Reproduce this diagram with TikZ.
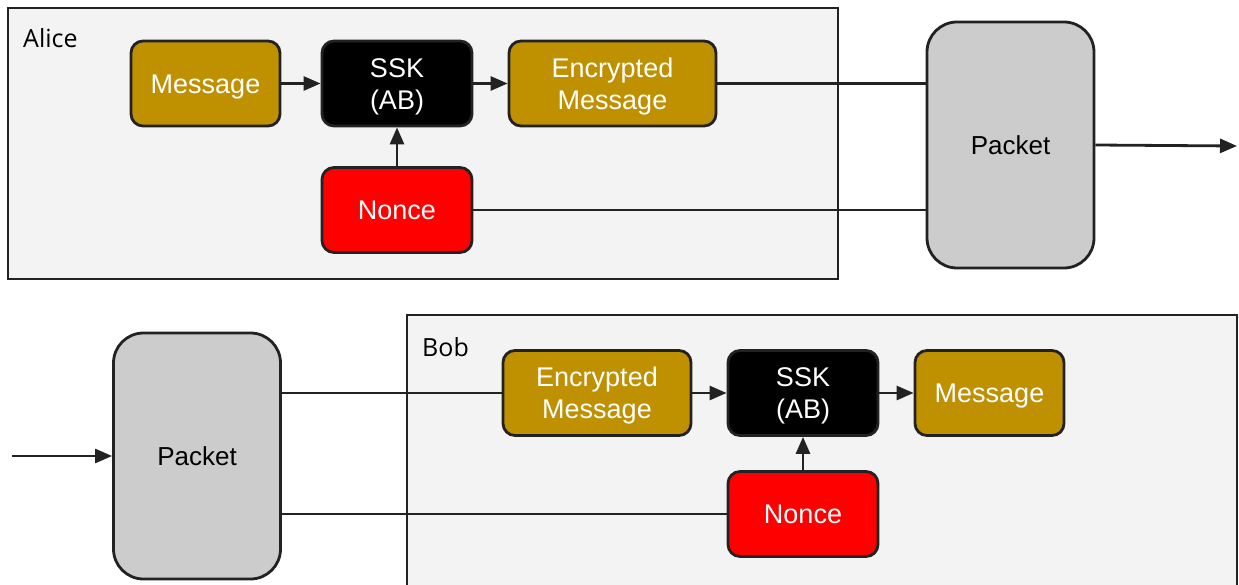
\documentclass[tikz,border=0pt]{standalone}
\usepackage{fontspec}
\setmainfont{Liberation Sans}
\newfontfamily\labelfont{Open Sans}
\usetikzlibrary{arrows.meta}
\definecolor{gold}{HTML}{BF9000}
\definecolor{pane}{HTML}{F3F3F3}
\definecolor{pktgray}{HTML}{CCCCCC}
\definecolor{edge}{HTML}{222222}
\tikzset{
  box/.style={draw=edge, line width=2.8pt, rounded corners=12pt, inner sep=0pt,
    minimum height=85pt, align=center, text=white,
    text height=19.5pt, text depth=0pt,
    font=\fontsize{27}{32}\selectfont},
  twoline/.style={text height=51.5pt, text depth=0pt},
  goldbox/.style={box, fill=gold},
  keybox/.style={box, fill=black, minimum width=150pt},
  noncebox/.style={box, fill=red, minimum width=150pt},
  packetbox/.style={draw=edge, line width=2.8pt, rounded corners=30pt, fill=pktgray,
    minimum width=167pt, minimum height=246pt, text=black, inner sep=0pt,
    text height=19pt, text depth=0pt,
    font=\fontsize{26}{30}\selectfont},
  container/.style={draw=edge, line width=2.5pt, fill=pane},
  partylabel/.style={anchor=base west, inner sep=0pt, font=\labelfont\fontsize{25}{28}\selectfont},
  wire/.style={draw=edge, line width=2.8pt},
  flow/.style={wire, -{Triangle[length=17pt,width=14pt]}},
}
\begin{document}
\begin{tikzpicture}[x=1pt, y=-1pt]
\useasboundingbox (0,0) rectangle (1239,585);

% Sender side
\draw[container] (8,8) rectangle (838,279);
\node[partylabel] (alice) at (23,48) {Alice};
\node[goldbox, minimum width=149pt] (msgA) at (205.5,83.5) {Message};
\node[keybox, twoline] (sskA) at (397,83.5) {SSK\\(AB)};
\node[goldbox, twoline, minimum width=207pt] (encA) at (612.5,83.5) {Encrypted\\Message};
\node[noncebox] (nonceA) at (397,210) {Nonce};
\node[packetbox] (pktA) at (1010.5,145) {Packet};
\coordinate (outA) at (1237,146);

\draw[flow] (msgA) -- (sskA);
\draw[flow] (sskA) -- (encA);
\draw[flow] (nonceA) -- (sskA);
\draw[wire] (encA.east) -- (encA.east -| pktA.west);
\draw[wire] (nonceA.east) -- (nonceA.east -| pktA.west);
\draw[flow] (pktA.east) -- (outA);

% Receiver side
\draw[container] (407,315) rectangle (1237,600);
\node[partylabel] (bob) at (422,356) {Bob};
\node[packetbox] (pktB) at (197,456) {Packet};
\coordinate (inB) at (12,456);
\node[goldbox, twoline, minimum width=188pt] (encB) at (597,393) {Encrypted\\Message};
\node[keybox, twoline] (sskB) at (803,393) {SSK\\(AB)};
\node[goldbox, minimum width=149pt] (msgB) at (989.5,393) {Message};
\node[noncebox] (nonceB) at (803,514) {Nonce};

\draw[flow] (inB) -- (pktB);
\draw[wire] (encB.west -| pktB.east) -- (encB.west);
\draw[wire] (nonceB.west -| pktB.east) -- (nonceB.west);
\draw[flow] (encB) -- (sskB);
\draw[flow] (sskB) -- (msgB);
\draw[flow] (nonceB) -- (sskB);
\end{tikzpicture}
\end{document}
